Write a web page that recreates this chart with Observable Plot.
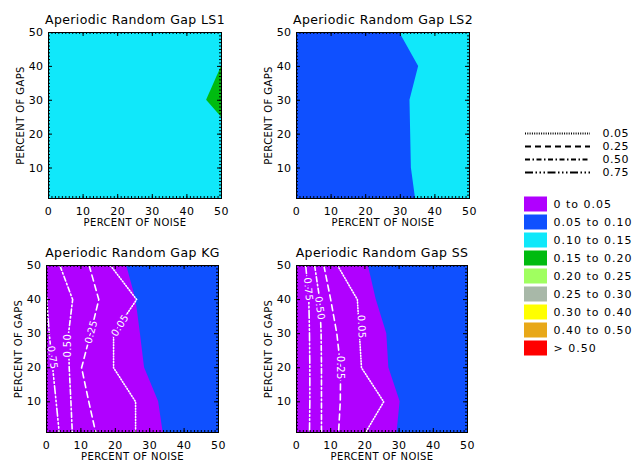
<!DOCTYPE html>
<html>
<head>
<meta charset="utf-8">
<script src="https://cdn.jsdelivr.net/npm/d3@7"></script>
<script src="https://cdn.jsdelivr.net/npm/@observablehq/plot@0.6"></script>
<style>
  body { margin: 0; background: #fff; }
  #chart { position: relative; width: 636px; height: 464px; background: #fff; overflow: hidden; }
  #chart svg { position: absolute; overflow: visible; }
</style>
</head>
<body>
<div id="chart"></div>
<script>
// ---------- data ----------
const noiseDomain = [0, 50];
const gapDomain = [1, 50];
const noiseTicks = [0, 10, 20, 30, 40, 50];
const gapTicks = [10, 20, 30, 40, 50];
const noiseMinor = d3.range(0, 51, 1);
const gapMinor = d3.range(1, 51, 1);

const legendLevels = ["0.05", "0.25", "0.50", "0.75"];
const colorLabels = ["0 to 0.05", "0.05 to 0.10", "0.10 to 0.15", "0.15 to 0.20", "0.20 to 0.25", "0.25 to 0.30", "0.30 to 0.40", "0.40 to 0.50", "> 0.50"];
const colorValues = ["#B000FF", "#0F50FF", "#10E8FA", "#00BB10", "#A0FF60", "#A8B8A8", "#FFFF00", "#E8A818", "#FF0000"];

// LS1: background 0.10-0.15, small 0.15-0.20 wedge at right edge
const ls1GreenGap = [25, 30, 40];
const ls1GreenNoise = [50, 45.7, 50];
// LS2: boundary between 0.05-0.10 (left) and 0.10-0.15 (right)
const ls2Gap = [1, 10, 20, 30, 40, 50];
const ls2Noise = [34.4, 33.2, 33.0, 32.8, 35.3, 29.8];
// KG: boundary between 0-0.05 (left) and 0.05-0.10 (right)
const kgGap = [1, 10, 20, 30, 40, 50];
const kgNoise = [33.9, 32.6, 28.5, 27.3, 26.0, 23.3];
// SS boundary
const ssGap = [1, 10, 20, 30, 40, 50];
const ssNoise = [29.4, 30.3, 27.0, 26.4, 23.3, 21.0];

// KG contour lines
const kg005 = {gap: [50, 40, 30, 20, 10, 1], noise: [18.6, 26.2, 19.5, 19.5, 25.9, 25.9]};
const kg025 = {gap: [50, 40, 30, 20, 10, 1], noise: [12.4, 15.2, 12.8, 10.2, 12.3, 14.3]};
const kg050 = {gap: [50, 40, 30, 20, 10, 1], noise: [3.9, 7.6, 6.4, 6.6, 7.1, 7.5]};
const kg075 = {gap: [41, 30, 20, 10, 1], noise: [0, 0.8, 1.8, 2.8, 3.7]};
const kgLabelText = ["0.05", "0.25", "0.50", "0.75"];
const kgLabelNoise = [21.4, 13.0, 6.1, 1.7];
const kgLabelGap = [32.4, 30.5, 26.5, 23.0];
const kgLabelAngle = [-58, -75, -90, 82];

// SS contour lines
const ss005 = {gap: [50, 40, 30, 20, 10, 1], noise: [12.0, 17.8, 18.4, 19.0, 25.5, 20.2]};
const ss025 = {gap: [50, 40, 30, 20, 10, 1], noise: [8.0, 10.0, 11.8, 12.9, 12.8, 12.3]};
const ss050 = {gap: [50, 40, 30, 20, 10, 1], noise: [5.3, 6.8, 7.2, 7.3, 7.3, 7.3]};
const ss075 = {gap: [50, 40, 30, 20, 10, 1], noise: [2.7, 3.6, 3.8, 3.9, 3.9, 3.8]};
const ssLabelText = ["0.05", "0.25", "0.50", "0.75"];
const ssLabelNoise = [19.0, 12.9, 6.8, 3.4];
const ssLabelGap = [32.0, 20.0, 37.5, 43.0];
const ssLabelAngle = [88, 90, 82, 85];

// ---------- styles ----------
const FONT = "DejaVu Sans";
const dash = {
  "0.05": "1,1.8",
  "0.25": "6,4",
  "0.50": "5,2.5,1.5,2.5",
  "0.75": "8,2.5,1.5,2.5,1.5,2.5,1.5,2.5"
};
const colorOf = Object.fromEntries(colorLabels.map((l, i) => [l, colorValues[i]]));
const rows = (noise, gap) => noise.map((n, i) => ({n, g: gap[i]}));

const chart = document.getElementById("chart");

function panel(p) {
  const [x0, y0, x1, y1] = p.box;
  const W = 248, H = 232;
  const ox = p.col * W, oy = p.row * H;
  const mL = x0 - ox, mR = ox + W - x1, mT = y0 - oy, mB = oy + H - y1;
  const fw = x1 - x0, fh = y1 - y0;
  const marks = [Plot.frame({fill: p.background, stroke: null})];
  for (const r of p.regions) {
    const data = rows(r.noise, r.gap);
    marks.push(Plot.areaX(data, {
      y: "g",
      x1: r.side === "left" ? noiseDomain[0] : "n",
      x2: r.side === "left" ? "n" : noiseDomain[1],
      fill: r.fill
    }));
  }
  for (const l of p.lines || []) {
    marks.push(Plot.line(rows(l.data.noise, l.data.gap), {
      x: "n", y: "g", stroke: "white", strokeWidth: 1.6, strokeDasharray: dash[l.level]
    }));
  }
  if (p.labels) {
    const lab = p.labels.text.map((t, i) => ({t, n: p.labels.noise[i], g: p.labels.gap[i], a: p.labels.angle[i]}));
    marks.push(Plot.text(lab, {
      x: "n", y: "g", text: "t", rotate: "a", fill: "white",
      stroke: colorValues[0], strokeWidth: 4, fontSize: 10, fontFamily: FONT
    }));
  }
  // ticks (inside, all four sides)
  marks.push(
    Plot.tickX(noiseMinor, {x: d => d, insetTop: fh - 2, stroke: "black"}),
    Plot.tickX(noiseMinor, {x: d => d, insetBottom: fh - 2, stroke: "black"}),
    Plot.tickX(noiseTicks, {x: d => d, insetTop: fh - 4, stroke: "black"}),
    Plot.tickX(noiseTicks, {x: d => d, insetBottom: fh - 4, stroke: "black"}),
    Plot.tickY(gapMinor, {y: d => d, insetRight: fw - 2, stroke: "black"}),
    Plot.tickY(gapMinor, {y: d => d, insetLeft: fw - 2, stroke: "black"}),
    Plot.tickY(gapTicks, {y: d => d, insetRight: fw - 4, stroke: "black"}),
    Plot.tickY(gapTicks, {y: d => d, insetLeft: fw - 4, stroke: "black"}),
    Plot.frame({stroke: "black", strokeWidth: 1})
  );
  // tick labels and titles
  const txt = {fill: "black", fontFamily: FONT, lineAnchor: "middle"};
  marks.push(
    Plot.text(noiseTicks, {...txt, x: d => d, frameAnchor: "bottom", dy: 12.5, textAnchor: "middle", text: d => String(d), fontSize: 11}),
    Plot.text(gapTicks, {...txt, y: d => d, frameAnchor: "left", dx: -5, textAnchor: "end", text: d => String(d), fontSize: 11}),
    Plot.text([p.title], {...txt, frameAnchor: "top", dy: -13, textAnchor: "middle", text: d => d, fontSize: 12.5}),
    Plot.text(["PERCENT OF NOISE"], {...txt, frameAnchor: "bottom", dy: 24.5, textAnchor: "middle", text: d => d, fontSize: 10}),
    Plot.text(["PERCENT OF GAPS"], {...txt, frameAnchor: "left", dx: -28, rotate: -90, textAnchor: "middle", text: d => d, fontSize: 10})
  );
  const svg = Plot.plot({
    width: W, height: H,
    marginLeft: mL, marginRight: mR, marginTop: mT, marginBottom: mB,
    x: {domain: noiseDomain, axis: null},
    y: {domain: gapDomain, axis: null},
    style: {background: "transparent", fontFamily: FONT, overflow: "visible", letterSpacing: "0.4px"},
    marks
  });
  svg.style.left = ox + "px";
  svg.style.top = oy + "px";
  chart.appendChild(svg);
}

panel({
  title: "Aperiodic Random Gap LS1", col: 0, row: 0, box: [48, 32, 221, 198],
  background: colorOf["0.10 to 0.15"],
  regions: [{gap: ls1GreenGap, noise: ls1GreenNoise, side: "right", fill: colorOf["0.15 to 0.20"]}]
});
panel({
  title: "Aperiodic Random Gap LS2", col: 1, row: 0, box: [296, 32, 469, 198],
  background: colorOf["0.10 to 0.15"],
  regions: [{gap: ls2Gap, noise: ls2Noise, side: "left", fill: colorOf["0.05 to 0.10"]}]
});
panel({
  title: "Aperiodic Random Gap KG", col: 0, row: 1, box: [46, 265, 218, 432],
  background: colorOf["0.05 to 0.10"],
  regions: [{gap: kgGap, noise: kgNoise, side: "left", fill: colorOf["0 to 0.05"]}],
  lines: [{level: "0.05", data: kg005}, {level: "0.25", data: kg025}, {level: "0.50", data: kg050}, {level: "0.75", data: kg075}],
  labels: {text: kgLabelText, noise: kgLabelNoise, gap: kgLabelGap, angle: kgLabelAngle}
});
panel({
  title: "Aperiodic Random Gap SS", col: 1, row: 1, box: [296, 265, 467, 432],
  background: colorOf["0.05 to 0.10"],
  regions: [{gap: ssGap, noise: ssNoise, side: "left", fill: colorOf["0 to 0.05"]}],
  lines: [{level: "0.05", data: ss005}, {level: "0.25", data: ss025}, {level: "0.50", data: ss050}, {level: "0.75", data: ss075}],
  labels: {text: ssLabelText, noise: ssLabelNoise, gap: ssLabelGap, angle: ssLabelAngle}
});

// ---------- legend: line styles ----------
{
  const svg = Plot.plot({
    width: 136, height: 75, margin: 0,
    x: {domain: [0, 1], range: [25, 90], axis: null},
    y: {type: "point", domain: legendLevels, range: [10, 65.5], axis: null},
    style: {background: "transparent", fontFamily: FONT, overflow: "visible", letterSpacing: "0.5px"},
    marks: [
      ...legendLevels.map(l => Plot.ruleY([l], {y: d => d, x1: 0, x2: 1, stroke: "black", strokeWidth: 2, strokeDasharray: l === "0.05" ? "1,1.3" : dash[l]})),
      Plot.text(legendLevels, {y: d => d, x: 1, dx: 12, textAnchor: "start", text: d => d, fill: "black", fontSize: 11, fontFamily: FONT})
    ]
  });
  svg.style.left = "500px";
  svg.style.top = "115px";
  chart.appendChild(svg);
}
// ---------- legend: colour swatches ----------
{
  const svg = Plot.plot({
    width: 136, height: 170, margin: 0,
    x: {domain: [0, 1], range: [24, 47], axis: null},
    y: {type: "band", domain: colorLabels, range: [4.5, 166.5], padding: 0, axis: null},
    color: {domain: colorLabels, range: colorValues},
    style: {background: "transparent", fontFamily: FONT, overflow: "visible", letterSpacing: "1px"},
    marks: [
      Plot.barX(colorLabels, {y: d => d, x1: 0, x2: 1, fill: d => d, insetTop: 1.5, insetBottom: 1.5}),
      Plot.text(colorLabels, {y: d => d, x: 1, dx: 6, textAnchor: "start", text: d => d, fill: "black", fontSize: 11, fontFamily: FONT})
    ]
  });
  svg.style.left = "500px";
  svg.style.top = "190px";
  chart.appendChild(svg);
}
</script>
</body>
</html>
